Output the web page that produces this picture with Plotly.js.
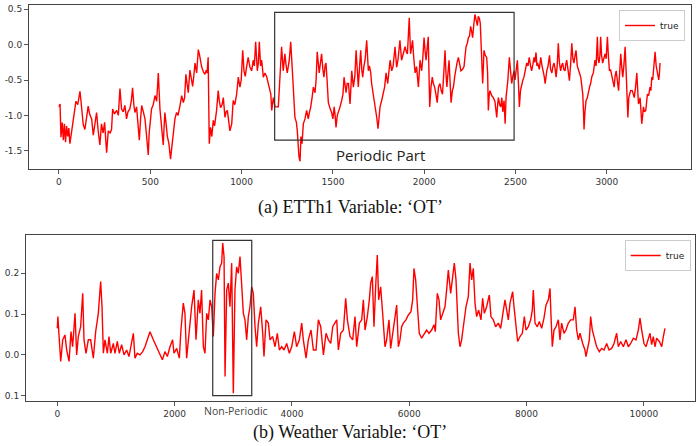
<!DOCTYPE html>
<html>
<head>
<meta charset="utf-8">
<script src="https://cdn.plot.ly/plotly-3.0.1.min.js"></script>
<style>html,body{margin:0;padding:0;background:#fff;}#chart{width:700px;height:446px;}</style>
</head>
<body>
<div id="chart"></div>
<script>
// ---- (a) ETTh1 Variable 'OT' ----
const ettT = [0,6,11,18,24,30,36,42,48,54,60,70,79,86,93,103,110,115,120,126,133,142,150,160,168,179,188,196,206,214,224,233,242,250,256,261,270,280,288,294,304,316,325,334,343,352,361,370,378,388,396,403,410,416,425,434,440,447,453,462,471,480,489,494,498,507,516,526,535,544,553,562,571,576,580,586,593,602,611,618,626,635,644,652,663,672,681,688,695,702,708,717,724,732,738,745,754,763,770,781,790,799,806,811,817,823,830,837,845,852,863,872,878,885,893,900,909,915,922,929,936,946,954,963,973,982,991,998,1006,1013,1020,1027,1036,1046,1055,1064,1070,1077,1086,1092,1097,1104,1110,1119,1128,1137,1145,1152,1160,1165,1174,1183,1201,1210,1219,1228,1237,1244,1250,1261,1269,1280,1286,1292,1300,1305,1314,1320,1325,1331,1338,1347,1356,1365,1372,1378,1386,1393,1402,1408,1414,1420,1425,1432,1438,1445,1451,1457,1462,1468,1475,1484,1493,1500,1507,1512,1517,1524,1530,1539,1548,1555,1561,1566,1572,1578,1585,1594,1603,1612,1620,1627,1633,1639,1645,1652,1658,1663,1670,1676,1685,1690,1694,1700,1707,1712,1718,1725,1731,1740,1747,1752,1758,1767,1776,1783,1791,1800,1806,1813,1822,1830,1840,1849,1857,1867,1876,1885,1895,1902,1908,1918,1925,1930,1936,1943,1950,1958,1963,1968,1977,1986,1992,1999,2005,2010,2016,2022,2026,2030,2037,2044,2050,2057,2064,2071,2078,2086,2093,2100,2107,2114,2119,2124,2130,2136,2141,2147,2154,2160,2167,2174,2180,2187,2194,2201,2210,2218,2224,2229,2236,2242,2248,2254,2260,2265,2272,2278,2284,2291,2296,2302,2307,2311,2316,2320,2324,2327,2334,2342,2347,2351,2356,2360,2369,2378,2387,2397,2402,2406,2413,2419,2425,2430,2437,2443,2448,2452,2458,2466,2472,2479,2485,2492,2497,2503,2510,2515,2521,2527,2533,2540,2546,2554,2561,2568,2575,2582,2588,2595,2601,2606,2612,2617,2621,2630,2638,2645,2652,2657,2662,2667,2671,2678,2686,2692,2699,2705,2711,2717,2722,2728,2734,2740,2747,2752,2758,2764,2771,2775,2780,2787,2795,2801,2808,2814,2820,2826,2831,2838,2844,2850,2857,2863,2868,2872,2875,2880,2886,2893,2899,2905,2911,2918,2926,2930,2935,2941,2948,2952,2957,2962,2966,2971,2977,2983,2990,2996,3003,3008,3014,3020,3027,3033,3040,3045,3051,3057,3064,3070,3076,3081,3087,3093,3100,3105,3109,3115,3120,3124,3130,3139,3145,3150,3157,3164,3168,3173,3178,3182,3187,3191,3196,3200,3206,3213,3218,3222,3229,3236,3241,3246,3251,3256,3260,3264,3270,3275,3280,3284,3288,3291];
const ettOT = [-0.88,-0.84,-1.31,-1.10,-1.35,-1.12,-1.38,-1.15,-1.30,-1.18,-1.40,-1.20,-1.06,-0.90,-0.80,-0.85,-0.72,-0.66,-0.78,-0.95,-1.13,-1.20,-1.05,-0.87,-0.98,-1.05,-1.28,-1.10,-0.96,-1.20,-1.42,-1.12,-1.25,-1.10,-1.33,-1.53,-1.22,-1.25,-1.20,-0.91,-0.98,-0.93,-1.00,-0.62,-0.91,-0.95,-0.86,-1.05,-0.95,-0.91,-0.80,-0.61,-0.85,-0.96,-0.88,-1.12,-1.35,-1.05,-0.86,-0.95,-1.05,-1.30,-1.56,-1.25,-1.10,-0.91,-0.85,-0.72,-0.80,-0.40,-0.91,-1.20,-1.42,-1.15,-0.96,-1.10,-1.29,-1.40,-1.62,-1.45,-1.22,-1.05,-0.96,-1.00,-0.86,-0.72,-0.82,-0.75,-0.42,-0.55,-0.68,-0.36,-0.50,-0.59,-0.45,-0.26,-0.40,-0.07,-0.15,-0.31,-0.38,-0.42,-0.36,-0.40,-0.18,-1.40,-1.17,-1.30,-1.07,-1.15,-0.93,-0.65,-0.80,-0.89,-0.85,-0.75,-1.03,-0.95,-0.93,-1.10,-1.22,-1.12,-0.79,-0.85,-0.70,-0.46,-0.60,-0.50,-0.08,-0.37,-0.45,-0.32,-0.18,-0.32,-0.37,-0.22,-0.30,0.04,-0.37,-0.25,0.04,-0.30,-0.22,-0.46,-0.40,-0.45,-0.55,-0.60,-0.70,-0.93,-0.75,-0.88,-0.88,-0.46,-0.03,-0.37,-0.13,-0.30,-0.40,-0.22,0.04,-0.46,-0.80,-1.03,-1.10,-1.22,-1.58,-1.65,-1.30,-1.40,-1.12,-1.05,-0.93,-1.05,-0.95,-0.89,-0.75,-0.60,-0.68,-0.50,-0.10,-0.30,-0.40,-0.25,-0.13,-0.35,-0.46,-0.30,-0.26,-0.50,-0.82,-0.90,-0.96,-1.05,-0.88,-1.00,-1.17,-1.00,-0.96,-0.88,-0.79,-0.70,-0.46,-0.60,-0.68,-0.55,-0.55,-0.84,-0.37,-0.60,-0.45,-0.08,-0.40,-0.60,-0.35,-0.08,-0.35,-0.46,-0.30,-0.22,0.06,-0.20,-0.37,-0.30,-0.40,-0.55,-0.65,-0.75,-0.84,-1.03,-1.19,-1.05,-0.88,-0.79,-0.65,-0.60,-0.40,-0.55,-0.40,-0.22,-0.37,-0.30,-0.03,-0.32,-0.20,0.06,-0.22,-0.12,-0.03,-0.10,-0.13,0.38,-0.13,-0.05,0.06,-0.20,-0.40,-0.31,-0.45,-0.60,-0.22,-0.37,-0.20,0.10,-0.10,-0.22,-0.05,0.11,-0.40,-0.88,-0.60,-0.46,-0.55,-0.60,-0.70,-0.82,-0.60,-0.55,-0.65,-0.70,-0.40,-0.08,-0.40,-0.60,-0.40,-0.22,-0.50,-0.82,-0.65,-0.60,-0.45,-0.31,-0.25,-0.18,-0.30,-0.37,-0.35,-0.31,-0.15,-0.03,0.02,0.10,0.12,0.26,0.18,0.10,0.30,0.43,0.35,0.27,0.40,0.37,0.30,0.10,-0.20,-0.55,-0.30,-0.08,-0.15,-0.18,-0.40,-0.93,-0.70,-0.65,-0.72,-0.75,-0.80,-1.03,-0.85,-0.75,-0.85,-0.88,-0.75,-0.95,-0.79,-1.12,-0.75,-0.65,-0.50,-0.18,-0.40,-0.55,-0.45,-0.37,-0.50,-0.40,-0.22,-0.50,-0.88,-0.65,-0.55,-0.50,-0.46,-0.35,-0.26,-0.30,-0.18,-0.30,-0.37,-0.28,-0.18,-0.25,-0.11,-0.30,-0.26,-0.35,-0.18,-0.30,-0.37,-0.45,-0.55,-0.40,-0.37,-0.30,-0.15,-0.35,-0.40,-0.30,-0.26,-0.35,-0.46,-0.30,0.02,-0.25,-0.37,-0.30,-0.26,-0.35,-0.37,-0.28,-0.22,-0.35,-0.51,-0.30,0.02,-0.20,-0.26,-0.15,-0.08,-0.30,-0.37,-0.40,-0.46,-0.60,-0.70,-0.95,-1.20,-0.95,-0.79,-0.75,-0.65,-0.60,-0.55,-0.45,-0.40,-0.30,-0.22,-0.30,0.11,-0.20,-0.26,-0.15,0.11,-0.15,-0.26,-0.20,-0.13,-0.20,0.11,-0.15,-0.37,-0.35,-0.46,-0.50,-0.60,-0.45,-0.37,-0.50,-0.65,-0.40,-0.13,-0.30,-0.46,-0.30,-0.03,-0.35,-0.55,-1.03,-0.75,-0.70,-0.65,-0.65,-0.70,-0.75,-0.60,-0.40,-0.60,-0.84,-0.80,-0.75,-0.95,-1.12,-1.00,-0.88,-0.95,-0.93,-0.80,-0.70,-0.72,-0.60,-0.65,-0.46,-0.50,-0.31,-0.25,-0.10,-0.30,-0.40,-0.45,-0.50,-0.40,-0.26];
const ettYTicks = [-1.5,-1.0,-0.5,0.0,0.5];
const ettYLabels = ['-1.5','-1.0','-0.5','0.0','0.5'];
const ettXTicks = [0,500,1000,1500,2000,2500,3000];
const ettXLabels = ['0','500','1000','1500','2000','2500','3000'];
const ettBox = {t0:1181, t1:2492, v0:-1.35, v1:0.457};

// ---- (b) Weather Variable 'OT' ----
const wthT = [0,10,30,58,92,130,160,200,233,261,302,330,358,398,433,455,489,529,568,614,654,699,739,762,785,813,853,881,910,955,983,1023,1057,1097,1137,1182,1222,1256,1296,1324,1364,1410,1455,1495,1540,1580,1637,1694,1751,1791,1836,1876,1921,1966,1989,2035,2080,2108,2148,2176,2205,2250,2290,2331,2365,2404,2432,2460,2490,2518,2547,2575,2604,2632,2660,2689,2717,2746,2774,2802,2820,2843,2860,2888,2916,2944,2973,3001,3029,3058,3086,3115,3143,3172,3200,3229,3257,3285,3314,3342,3371,3399,3428,3468,3502,3524,3559,3598,3627,3672,3712,3752,3786,3826,3866,3911,3956,3996,4042,4081,4127,4167,4195,4241,4280,4326,4366,4411,4451,4491,4537,4582,4622,4662,4696,4735,4764,4792,4832,4878,4917,4946,4991,5036,5076,5105,5150,5190,5218,5247,5286,5320,5343,5371,5399,5428,5456,5479,5513,5547,5587,5615,5655,5684,5718,5758,5786,5815,5843,5871,5900,5945,5985,6030,6059,6081,6110,6144,6172,6212,6252,6297,6337,6383,6422,6445,6479,6508,6536,6570,6610,6638,6667,6707,6741,6769,6798,6838,6866,6894,6923,6968,7008,7037,7065,7093,7122,7150,7184,7224,7252,7281,7320,7366,7394,7434,7474,7519,7559,7594,7633,7662,7690,7719,7764,7787,7821,7849,7889,7929,7963,7991,8031,8071,8099,8116,8145,8185,8219,8258,8298,8332,8372,8401,8418,8440,8469,8503,8543,8571,8599,8639,8673,8713,8753,8798,8827,8855,8884,8912,8958,8997,9014,9043,9071,9094,9122,9151,9196,9242,9282,9321,9367,9407,9452,9492,9537,9566,9606,9651,9697,9736,9776,9822,9867,9907,9935,9964,10003,10037,10066,10106,10134,10162,10191,10219,10265,10305,10333,10361];
const wthOT = [0.065,0.094,0.045,-0.016,0.037,0.049,0.012,-0.016,0.057,0.020,0.102,0.0,0.045,0.069,0.151,0.037,0.004,0.037,0.037,-0.008,0.057,0.102,0.180,0.118,0.004,0.037,0.004,0.045,0.004,0.028,0.004,0.033,0.004,0.025,0.0,0.012,-0.004,0.020,0.053,-0.008,0.004,0.0,0.008,0.020,0.041,0.057,0.037,0.020,0.0,-0.012,0.008,-0.004,0.020,0.037,0.004,0.016,-0.008,0.061,0.127,0.102,-0.008,0.069,0.118,0.159,0.037,0.135,0.102,0.159,0.020,0.004,0.102,0.086,0.135,0.118,0.045,0.151,0.200,0.184,0.216,0.225,0.274,0.241,-0.053,0.159,0.176,0.118,0.225,-0.094,0.159,0.216,0.200,0.241,0.184,0.102,0.086,0.037,0.094,0.118,0.167,0.151,0.069,0.020,0.078,0.118,0.053,-0.004,0.086,0.078,0.037,0.045,0.020,0.053,0.012,0.020,0.012,0.028,0.004,0.020,0.057,0.020,0.037,0.078,0.037,-0.008,0.037,0.061,0.012,0.012,0.086,0.069,0.0,0.053,0.037,0.028,0.069,0.078,0.086,0.012,0.053,0.061,0.139,0.086,0.045,0.037,0.094,0.020,0.078,0.086,0.135,0.061,0.094,0.135,0.176,0.192,0.069,0.167,0.245,0.135,0.167,0.102,0.020,0.037,0.086,0.016,0.053,0.102,0.122,0.020,0.037,0.069,0.078,0.086,0.098,0.106,0.135,0.212,0.184,0.110,0.053,0.041,0.049,0.061,0.053,0.061,0.074,0.057,0.151,0.135,0.086,0.102,0.118,0.159,0.208,0.151,0.192,0.225,0.184,0.053,0.020,0.037,0.069,0.118,0.143,0.225,0.184,0.212,0.127,0.094,0.110,0.086,0.139,0.102,0.118,0.147,0.094,0.086,0.069,0.078,0.065,0.094,0.135,0.110,0.086,0.127,0.155,0.118,0.061,0.033,0.045,0.053,0.094,0.061,0.069,0.086,0.110,0.159,0.078,0.069,0.082,0.065,0.090,0.122,0.135,0.163,0.094,0.020,0.061,0.069,0.086,0.037,0.078,0.053,0.061,0.078,0.086,0.086,0.118,0.061,0.037,0.053,0.028,0.012,-0.004,0.020,0.037,0.094,0.061,0.045,0.020,0.008,0.016,0.012,0.028,0.012,0.016,0.028,0.053,0.020,0.033,0.020,0.037,0.020,0.028,0.041,0.037,0.061,0.090,0.061,0.028,0.020,0.037,0.053,0.025,0.045,0.020,0.041,0.033,0.020,0.045,0.065];
const wthYTicks = [-0.1,0.0,0.1,0.2];
const wthYLabels = ['0.1','0.0','0.1','0.2'];
const wthXTicks = [0,2000,4000,6000,8000,10000];
const wthXLabels = ['0','2000','4000','6000','8000','10000'];
const wthBox = {t0:2650, t1:3315, v0:-0.1, v1:0.281};

const seriesName = 'true';
const captionA = '(a) ETTh1 Variable: \u2018OT\u2019';
const captionB = '(b) Weather Variable: \u2018OT\u2019';
const boxLabelA = 'Periodic Part';
const boxLabelB = 'Non-Periodic';

const W = 700, H = 446;
const tickFont = {family:'DejaVu Sans, sans-serif', size:9, color:'#333'};
function axisBase(){
  return {showline:true, mirror:true, linecolor:'#444', linewidth:1, showgrid:false, zeroline:false,
          ticks:'outside', ticklen:4, tickcolor:'#555', tickfont:tickFont};
}

const traces = [
  {x:ettT, y:ettOT, type:'scatter', mode:'lines', name:seriesName, line:{color:'#ff0000', width:1.4}, xaxis:'x', yaxis:'y', legend:'legend'},
  {x:wthT, y:wthOT, type:'scatter', mode:'lines', name:seriesName, line:{color:'#ff0000', width:1.4}, xaxis:'x2', yaxis:'y2', legend:'legend2'}
];

const legendStyle = {xanchor:'right', yanchor:'top', bgcolor:'#fff', bordercolor:'#ccc', borderwidth:1,
  font:{family:'DejaVu Sans, sans-serif', size:9, color:'#222'}, itemwidth:30, tracegroupgap:0};

const layout = {
  width:W, height:H, margin:{l:0,r:0,t:0,b:0}, paper_bgcolor:'#fff', plot_bgcolor:'#fff', showlegend:true,
  xaxis: Object.assign(axisBase(), {domain:[29/W, 690.7/W], range:[-164, 3459], tickvals:ettXTicks, ticktext:ettXLabels, anchor:'y'}),
  yaxis: Object.assign(axisBase(), {domain:[1-169/H, 1-5/H], range:[-1.759, 0.561], tickvals:ettYTicks, ticktext:ettYLabels, anchor:'x'}),
  xaxis2: Object.assign(axisBase(), {domain:[26/W, 695/W], range:[-534, 10873], tickvals:wthXTicks, ticktext:wthXLabels, anchor:'y2'}),
  yaxis2: Object.assign(axisBase(), {domain:[1-401/H, 1-235/H], range:[-0.113, 0.294], tickvals:wthYTicks, ticktext:wthYLabels, anchor:'x2'}),
  legend: Object.assign({x:685/W, y:1-10/H}, legendStyle),
  legend2: Object.assign({x:690.7/W, y:1-240/H}, legendStyle),
  shapes: [
    {type:'rect', xref:'x', yref:'y', x0:ettBox.t0, x1:ettBox.t1, y0:ettBox.v0, y1:ettBox.v1, line:{color:'#333', width:1.2}, fillcolor:'rgba(0,0,0,0)'},
    {type:'rect', xref:'x2', yref:'y2', x0:wthBox.t0, x1:wthBox.t1, y0:wthBox.v0, y1:wthBox.v1, line:{color:'#333', width:1.2}, fillcolor:'rgba(0,0,0,0)'}
  ],
  annotations: [
    {text:boxLabelA, xref:'x', yref:'paper', x:1763, y:1-155/H, xanchor:'center', yanchor:'middle', showarrow:false,
     font:{family:'Open Sans, sans-serif', size:15, color:'#222'}},
    {text:boxLabelB, xref:'x2', yref:'paper', x:3047, y:1-411/H, xanchor:'center', yanchor:'middle', showarrow:false,
     font:{family:'Open Sans, sans-serif', size:10.5, color:'#444'}},
    {text:captionA, xref:'paper', yref:'paper', x:350/W, y:1-207/H, xanchor:'center', yanchor:'middle', showarrow:false,
     font:{family:'Liberation Serif, Times New Roman, serif', size:18, color:'#111'}},
    {text:captionB, xref:'paper', yref:'paper', x:350/W, y:1-432/H, xanchor:'center', yanchor:'middle', showarrow:false,
     font:{family:'Liberation Serif, Times New Roman, serif', size:18, color:'#111'}}
  ]
};

Plotly.newPlot('chart', traces, layout, {displayModeBar:false, staticPlot:true});
</script>
</body>
</html>
